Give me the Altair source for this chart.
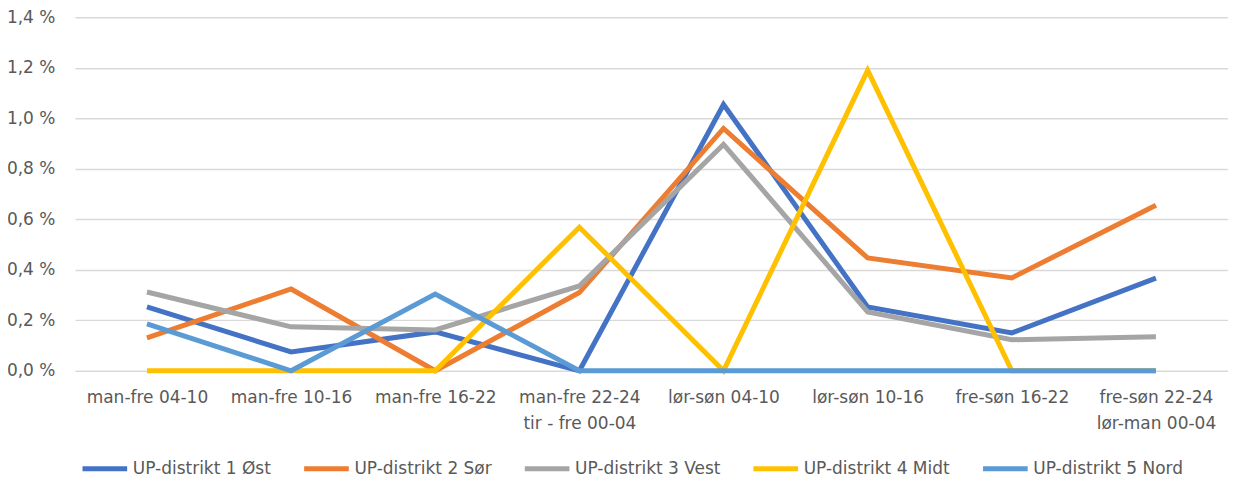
import altair as alt
import pandas as pd

categories = [
    "man-fre 04-10",
    "man-fre 10-16",
    "man-fre 16-22",
    "man-fre 22-24|tir - fre 00-04",
    "lør-søn 04-10",
    "lør-søn 10-16",
    "fre-søn 16-22",
    "fre-søn 22-24|lør-man 00-04",
]

series_names = [
    "UP-distrikt 1 Øst",
    "UP-distrikt 2 Sør",
    "UP-distrikt 3 Vest",
    "UP-distrikt 4 Midt",
    "UP-distrikt 5 Nord",
]

# values in percent
s1_ost = [0.253, 0.075, 0.154, 0.0, 1.055, 0.253, 0.150, 0.367]
s2_sor = [0.130, 0.324, 0.0, 0.310, 0.960, 0.447, 0.368, 0.656]
s3_vest = [0.312, 0.174, 0.162, 0.336, 0.897, 0.233, 0.123, 0.135]
s4_midt = [0.0, 0.0, 0.0, 0.569, 0.0, 1.190, 0.0, 0.0]
s5_nord = [0.186, 0.0, 0.304, 0.0, 0.0, 0.0, 0.0, 0.0]

colors = ["#4472C4", "#ED7D31", "#A5A5A5", "#FFC000", "#5B9BD5"]

rows = []
for name, vals in zip(series_names, [s1_ost, s2_sor, s3_vest, s4_midt, s5_nord]):
    for i, (c, v) in enumerate(zip(categories, vals)):
        rows.append({"kat": c, "serie": name, "verdi": v, "ord": i})
df = pd.DataFrame(rows)

FONT = "DejaVu Sans"
TXT = "#595959"

chart = (
    alt.Chart(df)
    .mark_line(strokeWidth=5, strokeJoin="miter", strokeCap="butt")
    .encode(
        x=alt.X(
            "kat:N",
            sort=categories,
            title=None,
            scale=alt.Scale(paddingInner=0, paddingOuter=0.5),
            axis=alt.Axis(
                labelAngle=0,
                labelExpr="split(datum.label, '|')",
                labelFont=FONT,
                labelFontSize=17,
                labelColor=TXT,
                labelLineHeight=26,
                labelPadding=19,
                ticks=False,
                domain=False,
                grid=False,
                labelLimit=200,
            ),
        ),
        y=alt.Y(
            "verdi:Q",
            title=None,
            scale=alt.Scale(domain=[0, 1.4], nice=False),
            axis=alt.Axis(
                values=[0, 0.2, 0.4, 0.6, 0.8, 1.0, 1.2, 1.4],
                labelExpr="replace(format(datum.value, '.1f'), '.', ',') + ' %'",
                labelFont=FONT,
                labelFontSize=17,
                labelColor=TXT,
                labelPadding=20,
                ticks=False,
                domain=False,
                gridColor="#D9D9D9",
                gridWidth=1.5,
            ),
        ),
        color=alt.Color(
            "serie:N",
            sort=series_names,
            scale=alt.Scale(domain=series_names, range=colors),
            legend=alt.Legend(
                title=None,
                orient="none",
                direction="horizontal",
                legendX=5,
                legendY=427,
                symbolType="stroke",
                symbolStrokeWidth=5,
                symbolSize=2000,
                labelFont=FONT,
                labelFontSize=17,
                labelColor=TXT,
                labelOffset=3,
                columnPadding=22,
                labelLimit=300,
            ),
        ),
        order=alt.Order("ord:Q"),
    )
    .properties(
        width=1155,
        height=354,
        autosize=alt.AutoSizeParams(type="none"),
        padding={"left": 67, "top": 9, "right": 0, "bottom": 108},
    )
    .configure(background="white")
    .configure_view(stroke=None)
)

chart.save("out.html", embed_options={"renderer": "svg", "actions": False})
